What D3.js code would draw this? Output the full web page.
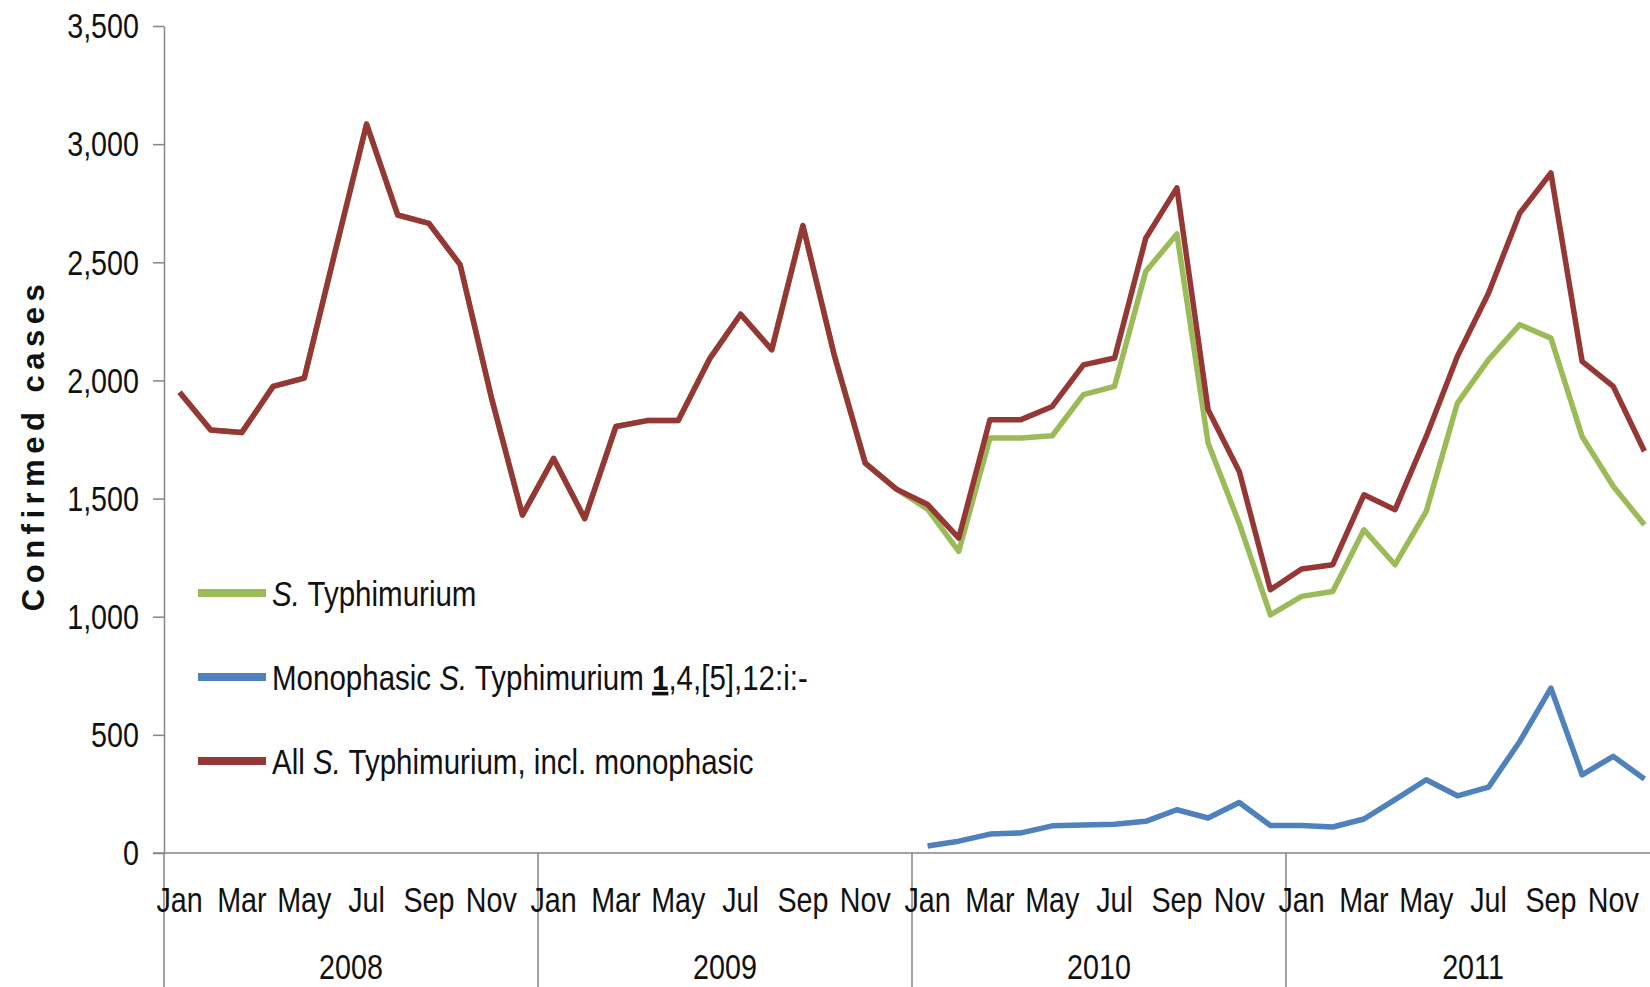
<!DOCTYPE html>
<html><head><meta charset="utf-8">
<script src="https://cdn.jsdelivr.net/npm/d3@7"></script>
<style>body{margin:0;background:#fff}svg{display:block}text{font-family:"Liberation Sans",Arial,sans-serif;fill:#111}</style>
</head><body><svg id="c" width="1650" height="987"></svg>
<script>
const years = ["2008","2009","2010","2011"];
const monthNames = ["Jan","Feb","Mar","Apr","May","Jun","Jul","Aug","Sep","Oct","Nov","Dec"];
const yTicks = [0,500,1000,1500,2000,2500,3000,3500];

// All S. Typhimurium, incl. monophasic
const allST = [
  1950,1790,1780,1975,2010,2550,3085,2700,2665,2490,1930,1430,
  1670,1415,1805,1830,1830,2090,2280,2130,2655,2110,1650,1540,
  1475,1333,1834,1834,1890,2066,2095,2602,2815,1876,1615,1114,
  1202,1220,1516,1453,1763,2102,2370,2708,2878,2081,1975,1700
];
// S. Typhimurium
const stOnly = [
  1950,1790,1780,1975,2010,2550,3085,2700,2665,2490,1930,1430,
  1670,1415,1805,1830,1830,2090,2280,2130,2655,2110,1650,1540,
  1455,1277,1756,1756,1766,1940,1975,2461,2620,1735,1395,1008,
  1086,1107,1368,1220,1446,1904,2088,2236,2179,1763,1552,1389
];
// Monophasic S. Typhimurium 1,4,[5],12:i:-
const mono = [
  null,null,null,null,null,null,null,null,null,null,null,null,
  null,null,null,null,null,null,null,null,null,null,null,null,
  30,50,80,85,115,118,122,134,183,148,214,116,
  116,110,144,226,310,242,279,472,698,331,409,313
];

const W=1650,H=987, x0=164, xEnd=1660, yBase=853, yTop=26;
const SX=0.82, AXC="#868686";
const svg=d3.select("#c");
const monthKeys=d3.range(48).map(i=>years[Math.floor(i/12)]+"-"+monthNames[i%12]);
const x=d3.scaleBand().domain(monthKeys).range([x0,xEnd]).padding(0);
const xYear=d3.scaleBand().domain(years).range([x0,xEnd]);
const y=d3.scaleLinear().domain([0,3500]).range([yBase,yTop]);
const cx=k=>x(k)+x.bandwidth()/2;

function sq(g,px,py,anchor,size){
  return g.append("text").attr("transform",`translate(${px},${py}) scale(${SX},1)`)
    .attr("text-anchor",anchor).attr("font-size",size);
}

// y axis
const gy=svg.append("g").attr("transform",`translate(${x0},0)`)
  .call(d3.axisLeft(y).tickValues(yTicks).tickSize(11).tickSizeOuter(0).tickFormat(""));
gy.selectAll("path,line").attr("stroke",AXC).attr("stroke-width",1.5);
yTicks.forEach(v=>{ sq(svg,139,y(v),"end",35).attr("dy","0.35em").text(d3.format(",")(v)); });

// x axis
svg.append("line").attr("x1",x0-11).attr("x2",W).attr("y1",yBase).attr("y2",yBase)
  .attr("stroke",AXC).attr("stroke-width",1.5);
years.forEach(yr=>{
  svg.append("line").attr("x1",xYear(yr)).attr("x2",xYear(yr)).attr("y1",yBase).attr("y2",H)
    .attr("stroke",AXC).attr("stroke-width",1.5);
});
monthKeys.forEach((k,i)=>{
  if(i%2===0) sq(svg,cx(k),912,"middle",35).text(monthNames[i%12]);
});
years.forEach(yr=>{ sq(svg,xYear(yr)+xYear.bandwidth()/2,979,"middle",35).text(yr); });

// y title
svg.append("text").attr("transform","translate(44,445) rotate(-90)").attr("text-anchor","middle")
  .attr("font-size",31).attr("font-weight","bold").attr("letter-spacing",5.5).text("Confirmed cases");

// lines
const series=[
  {name:"st",vals:stOnly,color:"#9BBB59"},
  {name:"mono",vals:mono,color:"#4F81BD"},
  {name:"all",vals:allST,color:"#953735"}
];
const line=d3.line().defined(d=>d.v!=null).x(d=>cx(d.k)).y(d=>y(d.v));
series.forEach(s=>{
  svg.append("path").datum(monthKeys.map((k,i)=>({k,v:s.vals[i]})))
    .attr("d",line).attr("fill","none").attr("stroke",s.color).attr("stroke-width",5.5)
    .attr("stroke-linejoin","round");
});

// legend
const leg=[593,677,761];
series.forEach((s,i)=>{
  svg.append("line").attr("x1",198).attr("x2",266).attr("y1",leg[i]).attr("y2",leg[i])
    .attr("stroke",s.color).attr("stroke-width",8);
});
let t=sq(svg,272,leg[0],"start",36).attr("dy","0.35em");
t.append("tspan").attr("font-style","italic").text("S.");
t.append("tspan").text(" Typhimurium");
t=sq(svg,272,leg[1],"start",36).attr("dy","0.35em");
t.append("tspan").text("Monophasic ");
t.append("tspan").attr("font-style","italic").text("S.");
t.append("tspan").text(" Typhimurium ");
t.append("tspan").attr("font-weight","bold").attr("text-decoration","underline").text("1");
t.append("tspan").text(",4,[5],12:i:-");
t=sq(svg,272,leg[2],"start",36).attr("dy","0.35em");
t.append("tspan").text("All ");
t.append("tspan").attr("font-style","italic").text("S.");
t.append("tspan").text(" Typhimurium, incl. monophasic");
</script></body></html>
